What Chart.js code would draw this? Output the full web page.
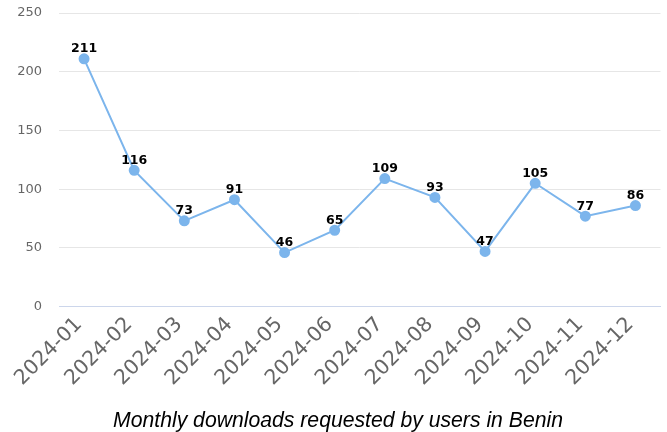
<!DOCTYPE html>
<html>
<head>
<meta charset="utf-8">
<script src="https://cdn.jsdelivr.net/npm/chart.js@4.4.1/dist/chart.umd.min.js"></script>
<style>
  html, body { margin: 0; padding: 0; background: #fff; }
  #wrap { width: 667px; height: 432px; }
</style>
</head>
<body>
<div id="wrap"><canvas id="chart" width="667" height="432"></canvas></div>
<script>
const months = ['2024-01', '2024-02', '2024-03', '2024-04', '2024-05', '2024-06',
                '2024-07', '2024-08', '2024-09', '2024-10', '2024-11', '2024-12'];
const downloads = [211, 116, 73, 91, 46, 65, 109, 93, 47, 105, 77, 86];
const yTicks = [0, 50, 100, 150, 200, 250];

// draws the value above each point (no datalabels plugin here)
const valueLabels = {
    id: 'valueLabels',
    afterDatasetsDraw(chart) {
        const ctx = chart.ctx;
        const meta = chart.getDatasetMeta(0);
        ctx.save();
        ctx.font = 'bold 12.5px "DejaVu Sans"';
        ctx.fillStyle = '#000';
        ctx.textAlign = 'center';
        ctx.textBaseline = 'alphabetic';
        meta.data.forEach((pt, i) => {
            ctx.fillText(String(downloads[i]), pt.x, pt.y - 6.5);
        });
        ctx.restore();
    }
};

new Chart(document.getElementById('chart'), {
    type: 'line',
    data: {
        labels: months,
        datasets: [{
            data: downloads,
            borderColor: 'rgb(124, 181, 236)',
            backgroundColor: 'rgb(124, 181, 236)',
            borderWidth: 2,
            pointRadius: 4.5,
            pointHoverRadius: 4.5,
            tension: 0
        }]
    },
    options: {
        responsive: false,
        animation: false,
        layout: { padding: { top: 13, right: 4, left: 13, bottom: 0 } },
        plugins: {
            legend: { display: false },
            tooltip: { enabled: false },
            title: {
                display: true,
                position: 'bottom',
                text: 'Monthly downloads requested by users in Benin',
                color: '#000',
                font: { family: '"Liberation Sans", Arial', size: 21.2, style: 'italic', weight: 'normal' },
                padding: { top: 12, bottom: -2 }
            }
        },
        scales: {
            x: {
                offset: true,
                grid: { display: false, drawTicks: false },
                border: { color: '#ccd6eb' },
                ticks: {
                    color: '#666',
                    font: { family: '"DejaVu Sans"', size: 20.5 },
                    maxRotation: 45,
                    minRotation: 45,
                    autoSkip: false,
                    labelOffset: -5,
                    padding: 6
                }
            },
            y: {
                min: 0,
                max: 250,
                afterBuildTicks(axis) {
                    axis.ticks = yTicks.map(v => ({ value: v }));
                },
                afterFit(axis) {
                    axis.width = 46;
                },
                grid: { color: '#e6e6e6', drawTicks: true, tickLength: 14, tickColor: 'rgba(0,0,0,0)' },
                border: { display: false },
                ticks: {
                    color: '#666',
                    font: { family: '"DejaVu Sans"', size: 13 },
                    padding: 3
                }
            }
        }
    },
    plugins: [valueLabels]
});
</script>
</body>
</html>
